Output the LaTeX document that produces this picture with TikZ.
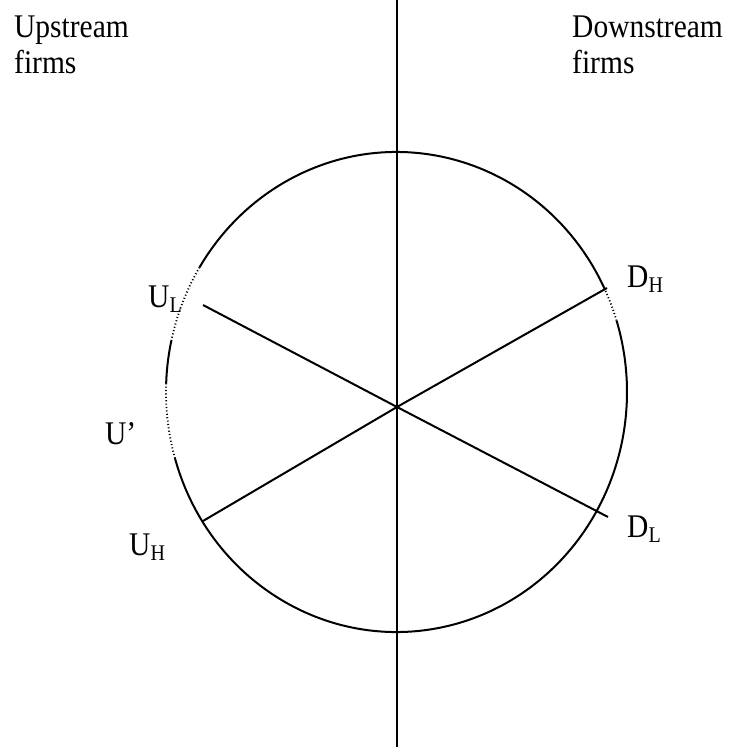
\documentclass[tikz,border=0pt]{standalone}
\usepackage{fontspec}
\setmainfont{Liberation Serif}
\usetikzlibrary{positioning}
\newcommand{\tall}[1]{\scalebox{1}[1.12]{#1}}
\newcommand{\sublab}[2]{\tall{#1\raisebox{-4pt}{\fontsize{20}{20}\selectfont #2}}}
\tikzset{
  hd/.style={font=\fontsize{29.5}{36}\selectfont,inner sep=0pt,anchor=base west},
  pt/.style={font=\fontsize{29.5}{36}\selectfont,inner sep=0pt,anchor=base west},
  ln/.style={draw=black,line width=2pt},
  dots/.style={draw=black,line width=1.8pt,dash pattern=on 1.1pt off 2.3pt},
}
\begin{document}
\begin{tikzpicture}[x=1pt,y=1pt]
\useasboundingbox (0,0) rectangle (740,750);
  % axis and headings
  \coordinate (top) at (397,750);
  \coordinate (bot) at (397,3);
  \draw[ln] (top) -- (bot);
  \node[hd] (up1) at (14,712) {\tall{Upstream}};
  \node[hd] (up2) at (14,676) {\tall{firms}};
  \node[hd] (down1) at (572,712) {\tall{Downstream}};
  \node[hd] (down2) at (572,676) {\tall{firms}};
  % the circle, in pieces
  \coordinate (c) at (396.5,358);
  \draw[ln] (c) ++(25.4:230.5 and 240) arc[start angle=25.4,end angle=148.7,x radius=230.5,y radius=240];
  \draw[dots] (c) ++(148.7:230.5 and 240) arc[start angle=148.7,end angle=167.5,x radius=230.5,y radius=240];
  \draw[ln] (c) ++(167.5:230.5 and 240) arc[start angle=167.5,end angle=177.9,x radius=230.5,y radius=240];
  \draw[dots] (c) ++(177.9:230.5 and 240) arc[start angle=177.9,end angle=196,x radius=230.5,y radius=240];
  \draw[ln] (c) ++(196:230.5 and 240) arc[start angle=196,end angle=377.3,x radius=230.5,y radius=240];
  \draw[dots] (c) ++(17.3:230.5 and 240) arc[start angle=17.3,end angle=25.4,x radius=230.5,y radius=240];
  % the two lines
  \coordinate (o) at (397,343);
  \coordinate (ul) at (203,445);
  \coordinate (dl) at (608,233);
  \coordinate (uh) at (203,229);
  \coordinate (dh) at (607,462);
  \draw[ln] (ul) -- (o) -- (dl);
  \draw[ln] (uh) -- (o) -- (dh);
  % labels
  \node[pt] (UL) at (148,442) {\sublab{U}{L}};
  \node[pt] (Up) at (105,305) {\tall{U’}};
  \node[pt] (UH) at (129,194) {\sublab{U}{H}};
  \node[pt] (DH) at (627,462) {\sublab{D}{H}};
  \node[pt] (DL) at (627,212) {\sublab{D}{L}};
\end{tikzpicture}
\end{document}
